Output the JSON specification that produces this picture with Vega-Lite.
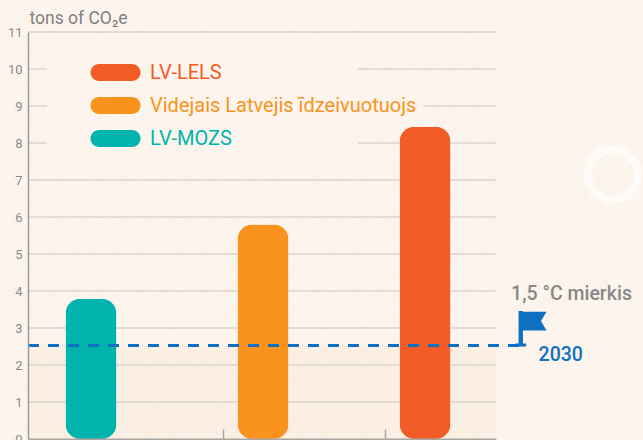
{"$schema":"https://vega.github.io/schema/vega-lite/v6.json","width":468,"height":407,"autosize":"none","padding":{"left":28,"top":32,"right":147,"bottom":1},
"background":"#fcf4ec",
"config":{"font":"Roboto","view":{"stroke":null}},
"datasets":{
"page":[{"slot":0.625,"slot2":4.594,"tons":-0.027,"tons2":11.865}],
"band":[{"slot":0.798,"slot2":3.687,"tons":0,"tons2":2.53}],
"bars":[{"category":"LV-MOZS","slot":1.187,"tons":3.79},{"category":"Videjais Latvejis īdzeivuotuojs","slot":2.249,"tons":5.8},{"category":"LV-LELS","slot":3.249,"tons":8.44}],
"target":[{"slot":0.798,"slot2":3.841,"tons":2.53}],
"grid":[{"tons":1,"slot":0.798,"slot2":3.687},{"tons":2,"slot":0.798,"slot2":3.687},{"tons":3,"slot":0.798,"slot2":3.687},{"tons":4,"slot":0.798,"slot2":3.687},{"tons":5,"slot":0.798,"slot2":3.687},{"tons":6,"slot":0.798,"slot2":3.687},{"tons":7,"slot":0.798,"slot2":3.687},{"tons":8,"slot":0.798,"slot2":0.915},{"tons":8,"slot":2.835,"slot2":3.687},{"tons":9,"slot":0.798,"slot2":0.915},{"tons":9,"slot":3.236,"slot2":3.687},{"tons":10,"slot":0.798,"slot2":0.915},{"tons":10,"slot":2.835,"slot2":3.687},{"tons":11,"slot":0.798,"slot2":3.687}],
"notes":[{"label":"1,5 °C mierkis","slot":3.78,"tons":3.92,"kind":"goal"},{"label":"2030","slot":3.95,"tons":2.28,"kind":"year"}],
"flag":[{"slot":3.841,"tons":2.53}],
"ring":[{"slot":4.41,"tons":7.14}]},
"encoding":{
"x":{"field":"slot","type":"quantitative","scale":{"domain":[0.798,3.687],"nice":false,"zero":false,"padding":0},"axis":{"zindex":1,"values":[2,3],"labels":false,"title":null,"grid":false,"tickSize":-10,"tickColor":"#a8a6a2","tickWidth":1.5,"domainColor":"#a8a6a2","domainWidth":2}},
"y":{"field":"tons","type":"quantitative","scale":{"domain":[0,11],"nice":false},"axis":{"zindex":1,"values":[0,1,2,3,4,5,6,7,8,9,10,11],"format":"d","grid":false,"tickSize":0,"labelPadding":6,"labelFontSize":13,"labelOverlap":false,"labelColor":"#8a8a8a","labelFont":"Roboto","labelFlush":false,"domainColor":"#9a9a9a","domainWidth":1.5,"title":"tons of CO₂e","titleAngle":0,"titleAlign":"left","titleBaseline":"middle","titleX":1,"titleY":-14,"titleFontSize":17.5,"titleFontWeight":"normal","titleColor":"#808080","titleFont":"Roboto"}}},
"layer":[
{"data":{"name":"page"},"mark":{"type":"rect","color":{"gradient":"linear","x1":0,"y1":0,"x2":1.147,"y2":0.785,"stops":[{"offset":0,"color":"#fbf3ea"},{"offset":0.01,"color":"#fdf6ef"},{"offset":0.02,"color":"#fbf3ea"},{"offset":0.03,"color":"#fdf6ef"},{"offset":0.04,"color":"#fbf3ea"},{"offset":0.05,"color":"#fdf6ef"},{"offset":0.06,"color":"#fbf3ea"},{"offset":0.07,"color":"#fdf6ef"},{"offset":0.08,"color":"#fbf3ea"},{"offset":0.09,"color":"#fdf6ef"},{"offset":0.1,"color":"#fbf3ea"},{"offset":0.11,"color":"#fdf6ef"},{"offset":0.12,"color":"#fbf3ea"},{"offset":0.13,"color":"#fdf6ef"},{"offset":0.14,"color":"#fbf3ea"},{"offset":0.15,"color":"#fdf6ef"},{"offset":0.16,"color":"#fbf3ea"},{"offset":0.17,"color":"#fdf6ef"},{"offset":0.18,"color":"#fbf3ea"},{"offset":0.19,"color":"#fdf6ef"},{"offset":0.2,"color":"#fbf3ea"},{"offset":0.21,"color":"#fdf6ef"},{"offset":0.22,"color":"#fbf3ea"},{"offset":0.23,"color":"#fdf6ef"},{"offset":0.24,"color":"#fbf3ea"},{"offset":0.25,"color":"#fdf6ef"},{"offset":0.26,"color":"#fbf3ea"},{"offset":0.27,"color":"#fdf6ef"},{"offset":0.28,"color":"#fbf3ea"},{"offset":0.29,"color":"#fdf6ef"},{"offset":0.3,"color":"#fbf3ea"},{"offset":0.31,"color":"#fdf6ef"},{"offset":0.32,"color":"#fbf3ea"},{"offset":0.33,"color":"#fdf6ef"},{"offset":0.34,"color":"#fbf3ea"},{"offset":0.35,"color":"#fdf6ef"},{"offset":0.36,"color":"#fbf3ea"},{"offset":0.37,"color":"#fdf6ef"},{"offset":0.38,"color":"#fbf3ea"},{"offset":0.39,"color":"#fdf6ef"},{"offset":0.4,"color":"#fbf3ea"},{"offset":0.41,"color":"#fdf6ef"},{"offset":0.42,"color":"#fbf3ea"},{"offset":0.43,"color":"#fdf6ef"},{"offset":0.44,"color":"#fbf3ea"},{"offset":0.45,"color":"#fdf6ef"},{"offset":0.46,"color":"#fbf3ea"},{"offset":0.47,"color":"#fdf6ef"},{"offset":0.48,"color":"#fbf3ea"},{"offset":0.49,"color":"#fdf6ef"},{"offset":0.5,"color":"#fbf3ea"},{"offset":0.51,"color":"#fdf6ef"},{"offset":0.52,"color":"#fbf3ea"},{"offset":0.53,"color":"#fdf6ef"},{"offset":0.54,"color":"#fbf3ea"},{"offset":0.55,"color":"#fdf6ef"},{"offset":0.56,"color":"#fbf3ea"},{"offset":0.57,"color":"#fdf6ef"},{"offset":0.58,"color":"#fbf3ea"},{"offset":0.59,"color":"#fdf6ef"},{"offset":0.6,"color":"#fbf3ea"},{"offset":0.61,"color":"#fdf6ef"},{"offset":0.62,"color":"#fbf3ea"},{"offset":0.63,"color":"#fdf6ef"},{"offset":0.64,"color":"#fbf3ea"},{"offset":0.65,"color":"#fdf6ef"},{"offset":0.66,"color":"#fbf3ea"},{"offset":0.67,"color":"#fdf6ef"},{"offset":0.68,"color":"#fbf3ea"},{"offset":0.69,"color":"#fdf6ef"},{"offset":0.7,"color":"#fbf3ea"},{"offset":0.71,"color":"#fdf6ef"},{"offset":0.72,"color":"#fbf3ea"},{"offset":0.73,"color":"#fdf6ef"},{"offset":0.74,"color":"#fbf3ea"},{"offset":0.75,"color":"#fdf6ef"},{"offset":0.76,"color":"#fbf3ea"},{"offset":0.77,"color":"#fdf6ef"},{"offset":0.78,"color":"#fbf3ea"},{"offset":0.79,"color":"#fdf6ef"},{"offset":0.8,"color":"#fbf3ea"},{"offset":0.81,"color":"#fdf6ef"},{"offset":0.82,"color":"#fbf3ea"},{"offset":0.83,"color":"#fdf6ef"},{"offset":0.84,"color":"#fbf3ea"},{"offset":0.85,"color":"#fdf6ef"},{"offset":0.86,"color":"#fbf3ea"},{"offset":0.87,"color":"#fdf6ef"},{"offset":0.88,"color":"#fbf3ea"},{"offset":0.89,"color":"#fdf6ef"},{"offset":0.9,"color":"#fbf3ea"},{"offset":0.91,"color":"#fdf6ef"},{"offset":0.92,"color":"#fbf3ea"},{"offset":0.93,"color":"#fdf6ef"},{"offset":0.94,"color":"#fbf3ea"},{"offset":0.95,"color":"#fdf6ef"},{"offset":0.96,"color":"#fbf3ea"},{"offset":0.97,"color":"#fdf6ef"},{"offset":0.98,"color":"#fbf3ea"},{"offset":0.99,"color":"#fdf6ef"},{"offset":1,"color":"#fbf3ea"}]}},"encoding":{"x2":{"field":"slot2"},"y2":{"field":"tons2"}}},
{"data":{"name":"band"},"mark":{"type":"rect","color":"#f9eadb","opacity":0.5},"encoding":{"x2":{"field":"slot2"},"y2":{"field":"tons2"}}},
{"data":{"name":"grid"},"mark":{"type":"rule","color":"#dcd5cb","strokeWidth":1.5},"encoding":{"x2":{"field":"slot2"}}},
{"data":{"name":"bars"},"mark":{"type":"bar","orient":"vertical","width":51,"cornerRadius":15},"encoding":{"color":{"field":"category","type":"nominal","scale":{"domain":["LV-LELS","Videjais Latvejis īdzeivuotuojs","LV-MOZS"],"range":["#f25c26","#f9931e","#00b3ad"]},"legend":{"orient":"none","legendX":77.5,"legendY":30.5,"title":null,"padding":0,"symbolType":"M-1.94 -1H1.94A1 1 0 0 1 1.94 1H-1.94A1 1 0 0 1 -1.94 -1Z","symbolSize":289,"symbolStrokeWidth":0,"symbolOpacity":1,"rowPadding":13,"labelOffset":24.5,"labelFontSize":20,"labelFont":"Roboto","labelLimit":400,"encode":{"labels":{"update":{"fill":{"scale":"color","field":"value"}}}}}}}},
{"data":{"name":"target"},"mark":{"type":"rule","color":"#0f6fc0","strokeWidth":3,"strokeDash":[11,9]},"encoding":{"x2":{"field":"slot2"}}},
{"data":{"name":"notes"},"mark":{"type":"text","align":"left","baseline":"middle","fontSize":19.5,"fontWeight":500},"encoding":{"text":{"field":"label"},"color":{"condition":{"test":"datum.kind==='year'","value":"#0f6fc0"},"value":"#888888"}}},
{"data":{"name":"flag"},"mark":{"type":"point","filled":true,"opacity":1,"color":"#0f6fc0","size":1600,"shape":"M-.12 -.1V-1.72H.1V-1.68H1.28L1 -1.22L1.28 -.75H.1V-.1H.26V.05H-.28V-.1Z"}},
{"data":{"name":"ring"},"mark":{"type":"point","filled":false,"opacity":0.65,"color":"#ffffff","strokeWidth":8,"size":2500,"shape":"circle"}}
]}
